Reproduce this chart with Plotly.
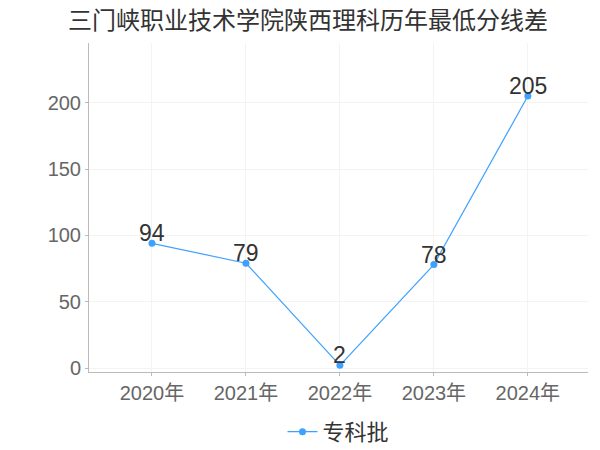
import plotly.graph_objects as go

years = ["2020年", "2021年", "2022年", "2023年", "2024年"]
values = [94, 79, 2, 78, 205]
series_name = "专科批"
title = "三门峡职业技术学院陕西理科历年最低分线差"
y_ticks = [0, 50, 100, 150, 200]

font_family = "Liberation Sans, Noto Sans CJK SC, sans-serif"
line_color = "#3fa1ff"

fig = go.Figure()
fig.add_trace(go.Scatter(
    x=years, y=values, name=series_name,
    mode="lines+markers",
    line=dict(color=line_color, width=1.2),
    marker=dict(color=line_color, size=7),
))

for x, v in zip(years, values):
    fig.add_annotation(
        x=x, y=v, text=str(v), showarrow=False,
        yanchor="bottom", xanchor="center", yshift=-5,
        font=dict(size=23, color="#333333", family=font_family),
    )

fig.update_layout(
    width=600, height=450,
    paper_bgcolor="white", plot_bgcolor="white",
    margin=dict(l=81, r=20, t=35, b=86, autoexpand=False),
    title=dict(text=title, x=0.5, xanchor="center", y=0.973, yanchor="middle",
               font=dict(size=24, color="#333333", family=font_family)),
    font=dict(family=font_family),
    showlegend=True,
    legend=dict(orientation="h", x=0.5, xanchor="center", yref="container",
                y=0.058, yanchor="middle",
                font=dict(size=22, color="#333333", family=font_family)),
    xaxis=dict(
        type="category", range=[-0.67, 4.64],
        showline=True, linecolor="#bbbbbb", linewidth=1,
        ticks="outside", ticklen=3, tickcolor="#bbbbbb",
        showgrid=True, gridcolor="#f3f3f3",
        tickfont=dict(size=20, color="#666666", family=font_family),
    ),
    yaxis=dict(
        range=[-3, 245], tickvals=y_ticks,
        showline=True, linecolor="#bbbbbb", linewidth=1,
        ticks="outside", ticklen=3, tickcolor="#bbbbbb",
        showgrid=True, gridcolor="#f3f3f3", zeroline=False,
        tickfont=dict(size=20, color="#666666", family=font_family),
    ),
)

fig.write_html("out.html")
